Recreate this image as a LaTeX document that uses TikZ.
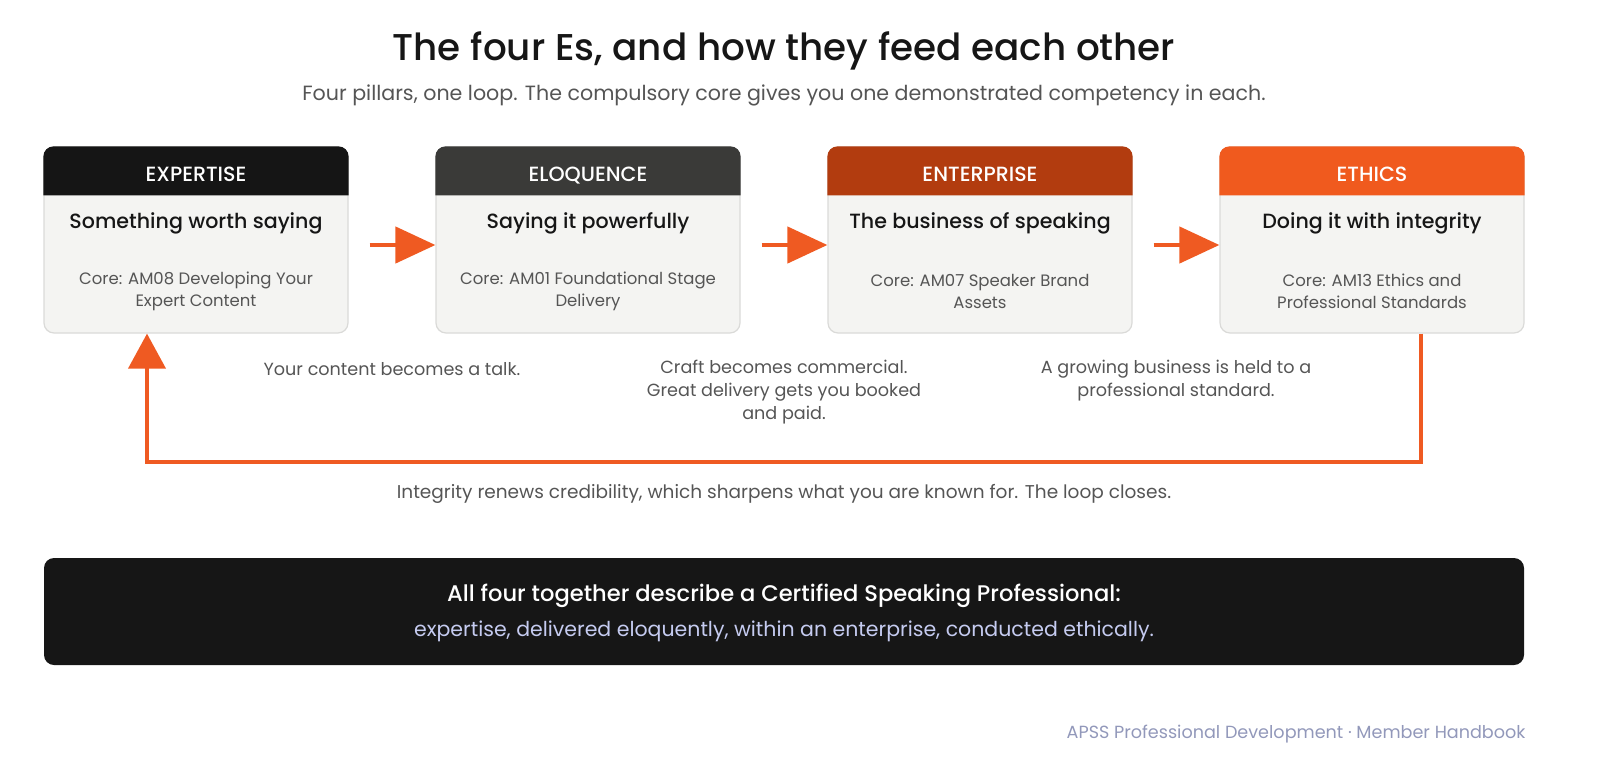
\documentclass[tikz,border=0pt]{standalone}
\usepackage{fontspec}
\setmainfont{Poppins}
\IfFontExistsTF{Poppins Medium}{\newfontfamily\poppinsmedium{Poppins Medium}}{\newfontfamily\poppinsmedium{Poppins}}
\usepackage{tikz}
\usetikzlibrary{arrows.meta,positioning,calc}

\definecolor{inkblack}{HTML}{161616}
\definecolor{softgray}{HTML}{555555}
\definecolor{cardfill}{HTML}{F4F4F2}
\definecolor{cardline}{HTML}{DADAD8}
\definecolor{headone}{HTML}{151515}
\definecolor{headtwo}{HTML}{3A3A38}
\definecolor{headthree}{HTML}{B23C0F}
\definecolor{headfour}{HTML}{F05A1E}
\definecolor{flame}{HTML}{EF5A22}
\definecolor{lavender}{HTML}{C5CBF0}
\definecolor{footgray}{HTML}{9298BA}

\begin{document}
\begin{tikzpicture}[x=1pt, y=-1pt,
  card/.style={minimum width=304pt, minimum height=186pt, draw=cardline, fill=cardfill, line width=1.2pt, rounded corners=10pt},
  headtext/.style={text=white, text depth=0pt, font=\poppinsmedium\fontsize{20.6}{24}\selectfont},
  cardtitle/.style={text=inkblack, font=\poppinsmedium\fontsize{20.6}{24}\selectfont},
  coretext/.style={text=softgray, align=center, font=\fontsize{16.5}{22}\selectfont},
  caption/.style={text=softgray, align=center, font=\fontsize{17.6}{23}\selectfont},
  flow arrow/.style={draw=flame, line width=4.5pt, -{Triangle[length=40pt,width=36pt]}},
  loop line/.style={draw=flame, line width=4pt, -{Triangle[length=35pt,width=37pt]}},
]
\useasboundingbox (0,0) rectangle (1600,780);

\node[text=inkblack, font=\poppinsmedium\fontsize{37.3}{41}\selectfont] (title) at (784,51) {The four Es, and how they feed each other};
\node[text=softgray, font=\fontsize{20.6}{24}\selectfont] (subtitle) at (784,95) {Four pillars, one loop. The compulsory core gives you one demonstrated competency in each.};

% the four pillars
\node[card] (expertise) at (196,240) {};
\fill[headone] ([yshift=-49pt]expertise.north west) [rounded corners=10pt] -- (expertise.north west) -- (expertise.north east) [sharp corners] -- ([yshift=-49pt]expertise.north east) -- cycle;
\node[headtext] (expertise head) at (196,174) {EXPERTISE};
\node[cardtitle] (expertise title) at (196,223) {Something worth saying};
\node[coretext] (expertise core) at (196,291.5) {Core: AM08 Developing Your\\Expert Content};

\node[card] (eloquence) at (588,240) {};
\fill[headtwo] ([yshift=-49pt]eloquence.north west) [rounded corners=10pt] -- (eloquence.north west) -- (eloquence.north east) [sharp corners] -- ([yshift=-49pt]eloquence.north east) -- cycle;
\node[headtext] (eloquence head) at (588,174) {ELOQUENCE};
\node[cardtitle] (eloquence title) at (588,223) {Saying it powerfully};
\node[coretext] (eloquence core) at (588,291.5) {Core: AM01 Foundational Stage\\Delivery};

\node[card] (enterprise) at (980,240) {};
\fill[headthree] ([yshift=-49pt]enterprise.north west) [rounded corners=10pt] -- (enterprise.north west) -- (enterprise.north east) [sharp corners] -- ([yshift=-49pt]enterprise.north east) -- cycle;
\node[headtext] (enterprise head) at (980,174) {ENTERPRISE};
\node[cardtitle] (enterprise title) at (980,223) {The business of speaking};
\node[coretext] (enterprise core) at (980,291.5) {Core: AM07 Speaker Brand\\Assets};

\node[card] (ethics) at (1372,240) {};
\fill[headfour] ([yshift=-49pt]ethics.north west) [rounded corners=10pt] -- (ethics.north west) -- (ethics.north east) [sharp corners] -- ([yshift=-49pt]ethics.north east) -- cycle;
\node[headtext] (ethics head) at (1372,174) {ETHICS};
\node[cardtitle] (ethics title) at (1372,223) {Doing it with integrity};
\node[coretext] (ethics core) at (1372,291.5) {Core: AM13 Ethics and\\Professional Standards};

% arrows between pillars
\draw[flow arrow, shorten <=21pt] ([yshift=-5pt]expertise.east) -- ([yshift=-5pt]eloquence.west);
\draw[flow arrow, shorten <=21pt] ([yshift=-5pt]eloquence.east) -- ([yshift=-5pt]enterprise.west);
\draw[flow arrow, shorten <=21pt] ([yshift=-5pt]enterprise.east) -- ([yshift=-5pt]ethics.west);

\node[caption] (content talk) at (392,369.5) {Your content becomes a talk.};
\node[caption] (craft commercial) at (784,392.5) {Craft becomes commercial.\\Great delivery gets you booked\\and paid.};
\node[caption] (business standard) at (1176,381) {A growing business is held to a\\professional standard.};

% the loop back
\coordinate (loop bend) at (784,462);
\draw[loop line] ([xshift=49pt]ethics.south) |- (loop bend) -| ([xshift=-49pt]expertise.south);
\node[caption, font=\fontsize{18.5}{23}\selectfont] (loop closes) at (784,494) {Integrity renews credibility, which sharpens what you are known for. The loop closes.};

% summary
\node[minimum width=1480pt, minimum height=107pt, fill=inkblack, rounded corners=10pt] (summary) at (784,611.5) {};
\node[text=white, font=\poppinsmedium\fontsize{22.6}{26}\selectfont] (summary head) at (784,595.5) {All four together describe a Certified Speaking Professional:};
\node[text=lavender, font=\fontsize{20.5}{24}\selectfont] (summary tail) at (784,631.5) {expertise, delivered eloquently, within an enterprise, conducted ethically.};

\node[anchor=east, text=footgray, font=\fontsize{17.6}{20}\selectfont] (footer) at (1529,734) {APSS Professional Development · Member Handbook};
\end{tikzpicture}
\end{document}
